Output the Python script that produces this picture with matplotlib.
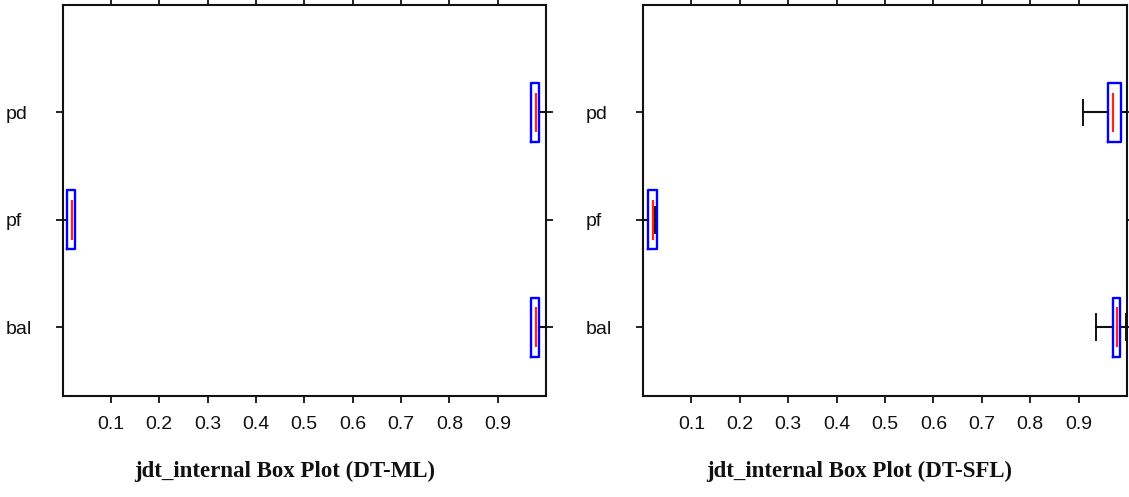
import matplotlib
matplotlib.use("Agg")
import matplotlib.pyplot as plt

# Rows, bottom to top
categories = ["bal", "pf", "pd"]
positions = [1, 2, 3]

# Box statistics per measure: lower whisker, Q1, median, Q3, upper whisker
ml_whislo = [0.970, 0.000, 0.970]
ml_q1     = [0.970, 0.009, 0.970]
ml_med    = [0.980, 0.019, 0.980]
ml_q3     = [0.986, 0.026, 0.986]
ml_whishi = [1.000, 0.026, 1.000]

sfl_whislo = [0.935, 0.000, 0.909]
sfl_q1     = [0.971, 0.010, 0.961]
sfl_med    = [0.979, 0.020, 0.971]
sfl_q3     = [0.985, 0.029, 0.988]
sfl_whishi = [0.997, 0.025, 1.000]

xticks = [0.1, 0.2, 0.3, 0.4, 0.5, 0.6, 0.7, 0.8, 0.9]
xticklabels = ["0.1", "0.2", "0.3", "0.4", "0.5", "0.6", "0.7", "0.8", "0.9"]

titles = ["jdt_internal Box Plot (DT-ML)", "jdt_internal Box Plot (DT-SFL)"]

W, H = 1129, 497
fig = plt.figure(figsize=(W / 100, H / 100), dpi=100)


def make_stats(wlo, q1, med, q3, whi):
    return [dict(whislo=a, q1=b, med=c, q3=d, whishi=e, fliers=[])
            for a, b, c, d, e in zip(wlo, q1, med, q3, whi)]


def draw_panel(ax, stats, title, title_x):
    box_w = 0.55
    ax.bxp(stats, positions=positions, widths=box_w, vert=False,
           showfliers=False, capwidths=0.24, patch_artist=False,
           boxprops=dict(color="#0000ff", linewidth=1.7, zorder=3),
           whiskerprops=dict(color="#111111", linewidth=1.5, linestyle="-",
                             zorder=2),
           capprops=dict(color="#111111", linewidth=1.4, zorder=2),
           medianprops=dict(linewidth=0))
    # shorter red median bars inset in each box
    for s, p in zip(stats, positions):
        ax.plot([s["med"], s["med"]], [p - 0.185, p + 0.185],
                color="#ff2020", linewidth=1.6, solid_capstyle="butt", zorder=4)
    ax.set_xlim(0, 1)
    ax.set_ylim(0.36, 4.0)
    ax.set_xticks(xticks)
    ax.set_xticklabels(xticklabels)
    ax.set_yticks(positions)
    ax.set_yticklabels(categories)
    ax.tick_params(axis="both", direction="out", length=5.2, width=1.3,
                   color="#111111", top=True, right=True, labelsize=14)
    ax.tick_params(axis="x", pad=9)
    ax.tick_params(axis="y", pad=36)
    for lab in ax.get_yticklabels():
        lab.set_horizontalalignment("left")
    for lab in ax.get_xticklabels() + ax.get_yticklabels():
        lab.set_fontfamily("Liberation Sans")
        lab.set_color("#111111")
    for sp in ax.spines.values():
        sp.set_linewidth(1.5)
        sp.set_color("#111111")
    fig.text(title_x, 1 - 471 / H, title, ha="center", va="center",
             fontsize=16.5, fontweight="bold", family="Liberation Serif",
             color="#111111")


bottom = 1 - 396 / H
top = 1 - 5 / H
ax1 = fig.add_axes([62.6 / W, bottom, (546 - 62.6) / W, top - bottom])
ax2 = fig.add_axes([643 / W, bottom, (1127 - 643) / W, top - bottom])

draw_panel(ax1, make_stats(ml_whislo, ml_q1, ml_med, ml_q3, ml_whishi),
           titles[0], 285 / W)
draw_panel(ax2, make_stats(sfl_whislo, sfl_q1, sfl_med, sfl_q3, sfl_whishi),
           titles[1], 859 / W)

fig.savefig("out.png", dpi=100)
